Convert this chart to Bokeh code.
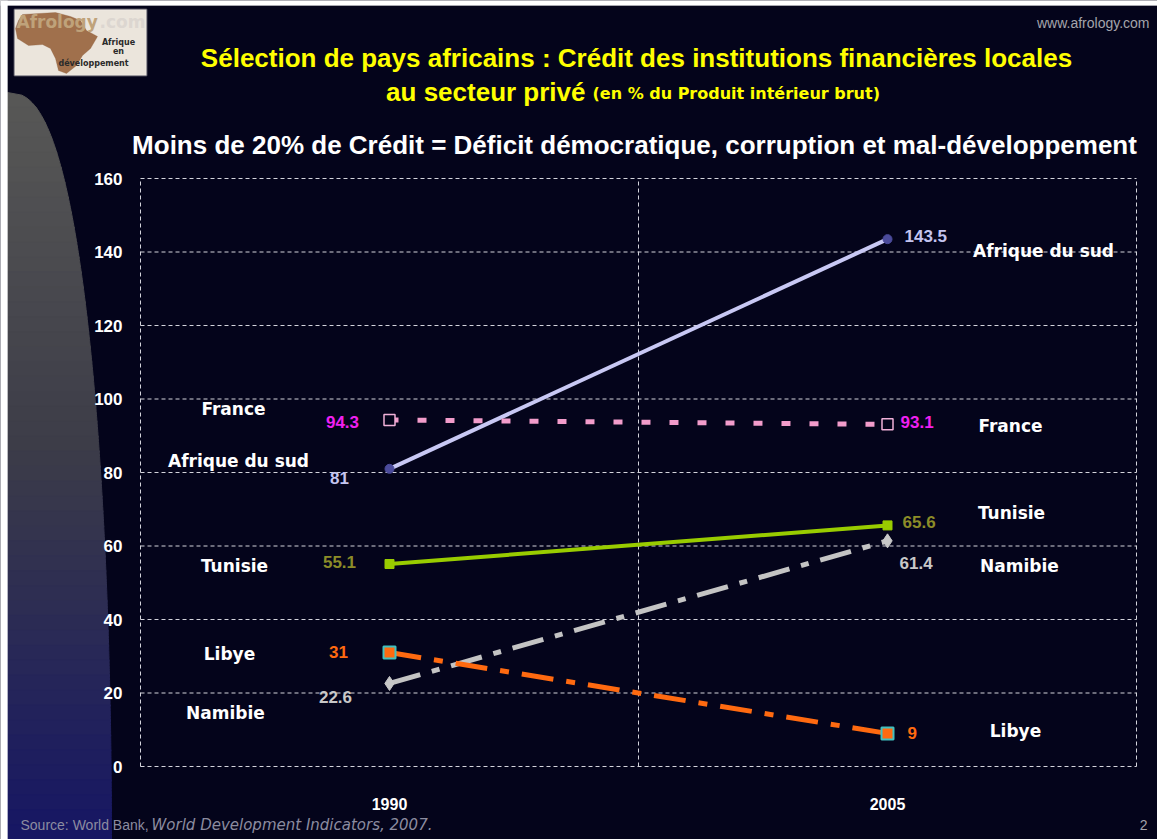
import math
from bokeh.plotting import figure
from bokeh.models import Range1d, FixedTicker, Label, PolyAnnotation, ColumnDataSource
from bokeh.embed import file_html
from bokeh.resources import INLINE
from bokeh.core.properties import value

# ---------------- data ----------------
years = ["1990", "2005"]
countries = ["Afrique du sud", "France", "Tunisie", "Namibie", "Libye"]
credit_1990 = [81, 94.3, 55.1, 22.6, 31]
credit_2005 = [143.5, 93.1, 65.6, 61.4, 9]
y_ticks = [0, 20, 40, 60, 80, 100, 120, 140, 160]
x_grid = [0, 1, 2]

# ---------------- styles ----------------
BG = "#04041b"
NUM = "'Liberation Sans', Arial, sans-serif"
SANS = "'Liberation Sans', Arial, sans-serif"
VERD = "'DejaVu Sans', Verdana, sans-serif"

line_colors = ["#c8c8f4", "#f29ccb", "#99cc00", "#c4c4c4", "#ff6a10"]
line_widths = [4, 5, 4, 5, 5]
line_dashes = ["solid", "9 19", "solid", "32 12 8 12", "32 13 9 13"]
markers = ["circle", "square", "square", "diamond", "square"]
marker_sizes = [9, 11, 9, 14, 12]
marker_fill = ["#4b4b9b", BG, "#99cc00", "#c8c8c8", "#ff6a10"]
marker_line = ["#4b4b9b", "#f0b0d8", "#99cc00", "#c8c8c8", "#40c0c0"]
marker_lw = [1, 1.5, 1, 1, 2]
value_colors = ["#c4c4f0", "#f020f0", "#8c8c28", "#c8c8c8", "#ff6a10"]

# label offsets (pixels)
val_dx_1990 = [-50, -47, -50, -54, -51]
val_dy_1990 = [9, 2, -2, 14, -1]
val_dx_2005 = [17, 13, 15, 12, 20]
val_dy_2005 = [-3, -2, -3, 22, 0]
name_dx_1990 = [-151, -156, -155, -164, -160]
name_dy_1990 = [-8, -11, 2, 30, 1]
name_dx_2005 = [156, 123, 124, 132, 128]
name_dy_2005 = [12, 2, -12, 25, -2]

W, H = 1157, 839
PX0, SX = 140.0, 498.0      # pixel of x=0, pixels per x unit
PY0, SY = 766.0, 588.0 / 160  # pixel of y=0, pixels per y unit

p = figure(width=W, height=H,
           x_range=Range1d(-PX0 / SX, (W - PX0) / SX),
           y_range=Range1d(-(H - PY0) / SY, PY0 / SY),
           output_backend="svg", toolbar_location=None, title=None, min_border=0,
           background_fill_color=BG, border_fill_color=BG, outline_line_color=None)
p.grid.visible = False


def X(px):
    return (px - PX0) / SX


def Y(py):
    return (PY0 - py) / SY


# ---------------- axes (fixed inside the canvas) ----------------
p.yaxis.fixed_location = 0
p.xaxis.fixed_location = 0
p.yaxis.ticker = FixedTicker(ticks=y_ticks)
p.xaxis.ticker = FixedTicker(ticks=[i + 0.5 for i in range(len(years))])
p.xaxis.major_label_overrides = {i + 0.5: y for i, y in enumerate(years)}
for ax in (p.xaxis[0], p.yaxis[0]):
    ax.axis_line_color = None
    ax.major_tick_line_color = None
    ax.minor_tick_line_color = None
    ax.major_tick_out = 0
    ax.major_tick_in = 0
    ax.major_label_text_color = "white"
    ax.major_label_text_font = NUM
    ax.major_label_text_font_style = "bold"
p.yaxis.major_label_text_font_size = "17px"
p.yaxis.major_label_standoff = 18
p.xaxis.major_label_text_font_size = "16px"
p.xaxis.major_label_standoff = 31

# ---------------- left decorative shape ----------------
top_y, bot_y, x0, xr = 92, 839, 7, 104
stops = [(92, (88, 88, 86)), (450, (60, 60, 72)), (839, (22, 22, 100))]


def col_at(y):
    for (ya, ca), (yb, cb) in zip(stops[:-1], stops[1:]):
        if ya <= y <= yb:
            t = (y - ya) / (yb - ya)
            c = [round(a + (b - a) * t) for a, b in zip(ca, cb)]
            return "#%02x%02x%02x" % tuple(c)
    return "#%02x%02x%02x" % stops[-1][1]


def edge(y):
    u = (bot_y - y) / (bot_y - top_y)
    return x0 + xr * max(0.0, 1 - u * u) ** 0.4


N = 50
for k in range(N):
    ya = top_y + (bot_y - top_y) * k / N
    yb = min(bot_y, top_y + (bot_y - top_y) * (k + 1) / N + 1)
    ys_ = [ya + (yb - ya) * j / 6 for j in range(7)]
    xs = [x0] + [edge(y) for y in ys_] + [x0]
    yy = [ys_[0]] + ys_ + [ys_[-1]]
    c = col_at((ya + yb) / 2)
    p.add_layout(PolyAnnotation(xs=[X(v) for v in xs], ys=[Y(v) for v in yy],
                                fill_color=c, fill_alpha=1, line_color=c, line_alpha=1,
                                line_width=1, level="underlay"))


def rect(x0_, y0_, x1_, y1_, fill, line=None, lw=1, level="underlay"):
    p.add_layout(PolyAnnotation(xs=[X(x0_), X(x1_), X(x1_), X(x0_)],
                                ys=[Y(y0_), Y(y0_), Y(y1_), Y(y1_)],
                                fill_color=fill, fill_alpha=1,
                                line_color=line if line else fill, line_width=lw, level=level))


# white strips from the original slide crop
rect(0, 0, W, 5, "white")
rect(0, 0, 7, H, "white")

# ---------------- logo ----------------
rect(14, 9, 146, 75, "#ebe5dc", line="#f6f2ee", lw=2)
africa = [(22, 14), (55, 12), (70, 16), (80, 20), (86, 30), (97, 36), (90, 48), (82, 55), (76, 65),
          (66, 73), (58, 70), (55, 58), (50, 48), (42, 44), (28, 45), (17, 38), (15, 28), (18, 20)]
p.add_layout(PolyAnnotation(xs=[X(a) for a, b in africa], ys=[Y(b) for a, b in africa],
                            fill_color="#a0704c", fill_alpha=1, line_color="#8a5c3c", line_width=1,
                            level="underlay"))


def lab(px, py, text, size, color, align="left", style="bold", font=SANS, baseline="middle"):
    p.add_layout(Label(x=X(px), y=Y(py), text=text, text_font_size=f"{size}px", text_color=color,
                       text_align=align, text_baseline=baseline, text_font_style=style,
                       text_font=font))


lab(16, 21, "Afrology", 17, "#bfa27a", font=VERD)
lab(99, 21, ".com", 17, "#dcd6d0", font=VERD)
lab(118, 42, "Afrique", 8, "#2a2a2a", align="center", font=VERD)
lab(118, 51, "en", 8, "#2a2a2a", align="center", font=VERD)
lab(93, 63, "développement", 8, "#2a2a2a", align="center", font=VERD)

# ---------------- titles ----------------
lab(636, 57, "Sélection de pays africains : Crédit des institutions financières locales", 26, "#ffff00",
    align="center")
lab(585, 91, "au secteur privé", 26, "#ffff00", align="right")
lab(592, 93, "(en % du Produit intérieur brut)", 16, "#ffff00", align="left", font=VERD)
lab(634, 144, "Moins de 20% de Crédit = Déficit démocratique, corruption et mal-développement", 26,
    "white", align="center")
lab(1149, 22, "www.afrology.com", 14, "#a4a4ac", align="right", style="normal")
lab(20, 824, "Source: World Bank,", 14, "#8c8ca0", style="normal")
lab(151, 824, "World Development Indicators, 2007.", 15, "#8c8ca0", style="italic", font=VERD)
lab(1147, 824, "2", 14, "#a4a4ac", align="right", style="normal")

# ---------------- grid lines (dashed) ----------------
p.segment(x0=[x_grid[0]] * len(y_ticks), x1=[x_grid[-1]] * len(y_ticks), y0=y_ticks, y1=y_ticks,
          line_color="#d4d4dc", line_width=1, line_dash="4 3")
p.segment(x0=x_grid, x1=x_grid, y0=[y_ticks[0]] * len(x_grid), y1=[y_ticks[-1]] * len(x_grid),
          line_color="#d4d4dc", line_width=1, line_dash="4 3")

# ---------------- series ----------------
xpos = [i + 0.5 for i in range(len(years))]
for i, c in enumerate(countries):
    ys = [credit_1990[i], credit_2005[i]]
    p.line(xpos, ys, line_color=line_colors[i], line_width=line_widths[i], line_dash=line_dashes[i],
           line_cap="butt")
for i, c in enumerate(countries):
    ys = [credit_1990[i], credit_2005[i]]
    p.scatter(xpos, ys, marker=markers[i], size=marker_sizes[i], fill_color=marker_fill[i],
              line_color=marker_line[i], line_width=marker_lw[i])

fmt = lambda v: f"{v:g}"
n = len(countries)
src1 = ColumnDataSource(dict(x=[xpos[0]] * n, y=credit_1990, t=[fmt(v) for v in credit_1990],
                             c=value_colors, dx=val_dx_1990, dy=val_dy_1990))
src2 = ColumnDataSource(dict(x=[xpos[1]] * n, y=credit_2005, t=[fmt(v) for v in credit_2005],
                             c=value_colors, dx=val_dx_2005, dy=val_dy_2005))
p.text(x="x", y="y", text="t", source=src1, text_color="c", x_offset="dx", y_offset="dy",
       text_align="center", text_baseline="middle", text_font=value(NUM),
       text_font_style="bold", text_font_size="17px")
p.text(x="x", y="y", text="t", source=src2, text_color="c", x_offset="dx", y_offset="dy",
       text_align="left", text_baseline="middle", text_font=value(NUM),
       text_font_style="bold", text_font_size="17px")

src3 = ColumnDataSource(dict(x=[xpos[0]] * n, y=credit_1990, t=countries, dx=name_dx_1990, dy=name_dy_1990))
src4 = ColumnDataSource(dict(x=[xpos[1]] * n, y=credit_2005, t=countries, dx=name_dx_2005, dy=name_dy_2005))
for s in (src3, src4):
    p.text(x="x", y="y", text="t", source=s, x_offset="dx", y_offset="dy", text_color="white",
           text_align="center", text_baseline="middle", text_font=value(VERD),
           text_font_style="bold", text_font_size="17px")

open("out.html", "w").write(file_html(p, INLINE))
